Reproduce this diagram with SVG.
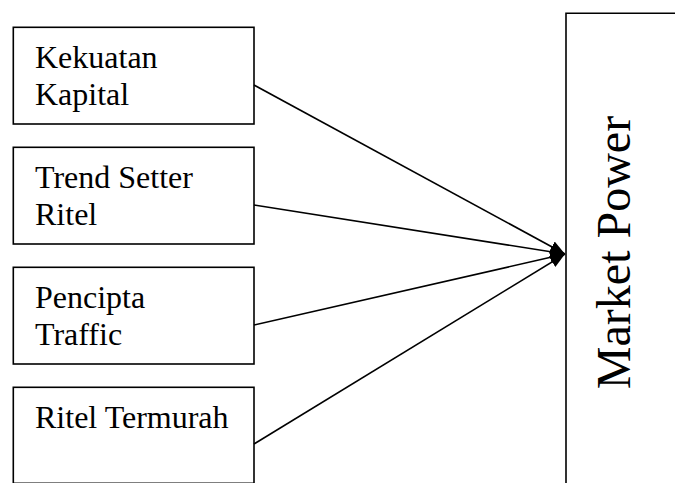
<svg xmlns="http://www.w3.org/2000/svg" width="675" height="483" viewBox="0 0 675 483">
  <style>
    .box { fill: #ffffff; stroke: #000000; stroke-width: 1.6; }
    .lbl { font-family: "Liberation Serif", "Times New Roman", serif; font-size: 32px; fill: #000000; }
    .big { font-family: "Liberation Serif", "Times New Roman", serif; font-size: 48px; fill: #000000; }
    .link { stroke: #000000; stroke-width: 1.6; fill: none; marker-end: url(#head); }
  </style>
  <defs>
    <marker id="head" markerUnits="userSpaceOnUse" markerWidth="16" markerHeight="14" refX="15" refY="7" orient="auto">
      <path d="M0,1 L15,7 L0,13 Z" fill="#000000"/>
    </marker>
  </defs>
  <rect width="675" height="483" fill="#ffffff"/>

  <g id="node-kekuatan-kapital">
    <rect class="box" x="13.3" y="27.3" width="240.7" height="96.7"/>
    <text class="lbl" x="35" y="68.3">Kekuatan</text>
    <text class="lbl" x="35" y="105">Kapital</text>
  </g>

  <g id="node-trend-setter">
    <rect class="box" x="13.3" y="147.3" width="240.7" height="96.7"/>
    <text class="lbl" x="35" y="188.3">Trend Setter</text>
    <text class="lbl" x="35" y="225">Ritel</text>
  </g>

  <g id="node-pencipta-traffic">
    <rect class="box" x="13.3" y="267.3" width="240.7" height="96.7"/>
    <text class="lbl" x="35" y="308.3">Pencipta</text>
    <text class="lbl" x="35" y="345">Traffic</text>
  </g>

  <g id="node-ritel-termurah">
    <rect class="box" x="13.3" y="387.3" width="240.7" height="96"/>
    <text class="lbl" x="35" y="428.3">Ritel Termurah</text>
  </g>

  <g id="node-market-power">
    <path class="box" d="M566,484 V13.3 H676" fill="none"/>
    <text class="big" transform="translate(630,252.5) rotate(-90)" text-anchor="middle">Market Power</text>
  </g>

  <g id="connectors">
    <line class="link" x1="254" y1="85" x2="565" y2="254"/>
    <line class="link" x1="254" y1="205" x2="565" y2="254"/>
    <line class="link" x1="254" y1="325" x2="565" y2="254"/>
    <line class="link" x1="254" y1="444" x2="565" y2="254"/>
  </g>
</svg>
